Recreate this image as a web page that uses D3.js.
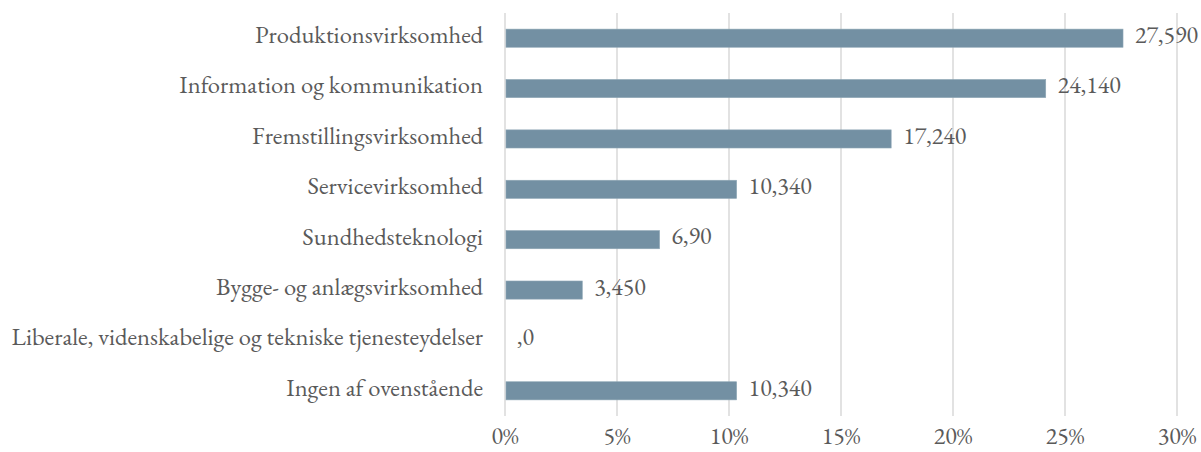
<!DOCTYPE html>
<html>
<head>
<meta charset="utf-8">
<script src="https://cdn.jsdelivr.net/npm/d3@7"></script>
<style>
  body { margin: 0; background: #fff; }
  svg text { font-family: "EB Garamond", Garamond, "Liberation Serif", "DejaVu Serif", serif; fill: #5a5a5a; }
</style>
</head>
<body>
<svg id="chart" width="1201" height="452"></svg>
<script>
// data
const categories = [
  "Produktionsvirksomhed",
  "Information og kommunikation",
  "Fremstillingsvirksomhed",
  "Servicevirksomhed",
  "Sundhedsteknologi",
  "Bygge- og anlægsvirksomhed",
  "Liberale, videnskabelige og tekniske tjenesteydelser",
  "Ingen af ovenstående"
];
const values = [27.59, 24.14, 17.24, 10.34, 6.90, 3.45, 0, 10.34];
// labels as printed in the original (odd formatting kept)
const valueLabels = ["27,590", "24,140", "17,240", "10,340", "6,90", "3,450", ",0", "10,340"];
const ticks = [0, 5, 10, 15, 20, 25, 30];

const svg = d3.select("#chart");
const plotLeft = 505, plotRight = 1177, plotTop = 13, plotBottom = 416;
const fontSize = 24.6;

const x = d3.scaleLinear().domain([0, 30]).range([plotLeft, plotRight]);
const y = d3.scaleBand().domain(categories).range([plotTop, plotBottom]).paddingInner(0.64).paddingOuter(0.32);

// gridlines
svg.append("g")
  .selectAll("line")
  .data(ticks)
  .join("line")
  .attr("x1", d => x(d)).attr("x2", d => x(d))
  .attr("y1", plotTop).attr("y2", plotBottom)
  .attr("stroke", "#d9d9d9")
  .attr("stroke-width", 1.5);

// x tick labels
svg.append("g")
  .selectAll("text")
  .data(ticks)
  .join("text")
  .attr("x", d => x(d))
  .attr("y", 439)
  .attr("text-anchor", "middle")
  .attr("dominant-baseline", "middle")
  .attr("font-size", 24)
  .text(d => d + "%");

// bars
svg.append("g")
  .selectAll("rect")
  .data(values)
  .join("rect")
  .attr("x", x(0) + 1)
  .attr("y", (d, i) => y(categories[i]))
  .attr("width", d => Math.max(0, x(d) - x(0) - 1))
  .attr("height", y.bandwidth())
  .attr("fill", "#7390a3")
  .attr("stroke", "#8ea6b5")
  .attr("stroke-width", d => d > 0 ? 0.6 : 0);

// category labels
svg.append("g")
  .selectAll("text")
  .data(categories)
  .join("text")
  .attr("x", 483)
  .attr("y", d => y(d) + y.bandwidth() / 2)
  .attr("text-anchor", "end")
  .attr("dominant-baseline", "middle")
  .attr("font-size", fontSize)
  .text(d => d);

// value labels
svg.append("g")
  .selectAll("text")
  .data(values)
  .join("text")
  .attr("x", d => x(d) + 12)
  .attr("y", (d, i) => y(categories[i]) + y.bandwidth() / 2)
  .attr("dominant-baseline", "middle")
  .attr("font-size", 24)
  .text((d, i) => valueLabels[i]);
</script>
</body>
</html>
